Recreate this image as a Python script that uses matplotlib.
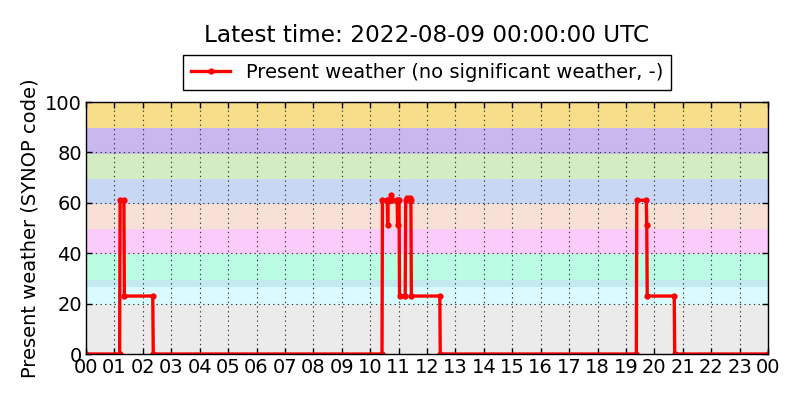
import numpy as np
import matplotlib
matplotlib.use('Agg')
import matplotlib.pyplot as plt

plt.rcParams.update({'font.family': 'DejaVu Sans', 'font.size': 14})

# present weather (wawa code), time in minutes after 2022-08-08 00:00 UTC
minutes = [0, 71, 72, 80, 81, 141, 142, 625, 626, 636, 637, 638, 643, 645,
           647, 657, 658, 659, 661, 662, 674, 675, 678, 684, 686, 687, 747,
           748, 1162, 1163, 1183, 1184, 1185, 1242, 1243, 1440]
wawa = [0, 0, 61, 61, 23, 23, 0, 0, 61, 61, 51, 61, 61, 63,
        61, 61, 51, 61, 61, 23, 23, 61, 62, 62, 61, 23, 23,
        0, 0, 61, 61, 51, 23, 23, 0, 0]

# code groups shaded in the background
band_edges = [-0.5, 19.5, 26.5, 29.5, 39.5, 49.5, 59.5, 69.5, 79.5, 89.5, 99.5]
band_colors = ['#ebebeb', '#d9fbfd', '#c3eaf1', '#bafde3', '#fbcbfb',
               '#f8e0d6', '#c8d7f4', '#d3ecc1', '#c9b8ed', '#f7de8a']

hour_labels = ['%02d' % h for h in range(24)] + ['00']

fig = plt.figure(figsize=(8, 4), dpi=100)
ax = fig.add_axes([0.1075, 0.115, 0.8525, 0.63])

for lo, hi, c in zip(band_edges[:-1], band_edges[1:], band_colors):
    ax.axhspan(lo, hi, color=c, lw=0, zorder=0)

hours = np.array(minutes) / 60.0
ax.plot(hours, wawa, color='red', lw=2.4, marker='.', ms=7, zorder=3,
        label='Present weather (no significant weather, -)')

ax.set_xlim(0, 24)
ax.set_ylim(0, 100)
ax.set_xticks(np.arange(25))
ax.set_xticklabels(hour_labels)
ax.set_yticks(np.arange(0, 101, 20))
ax.set_ylabel('Present weather (SYNOP code)')
ax.tick_params(direction='in', top=True, right=True, length=4, width=1, pad=3)
ax.grid(True, color='#333333', linestyle=(0, (1.2, 3)), lw=0.8, zorder=1)
for s in ax.spines.values():
    s.set_linewidth(1)
    s.set_zorder(4)

ax.legend(loc='lower center', bbox_to_anchor=(0.5, 1.048), borderaxespad=0,
          fancybox=False, edgecolor='black', framealpha=1, fontsize=14,
          numpoints=1)
ax.text(0.5, 1.262, 'Latest time: 2022-08-09 00:00:00 UTC', transform=ax.transAxes,
        ha='center', va='center', fontsize=16.7)

fig.savefig('out.png', dpi=100)
